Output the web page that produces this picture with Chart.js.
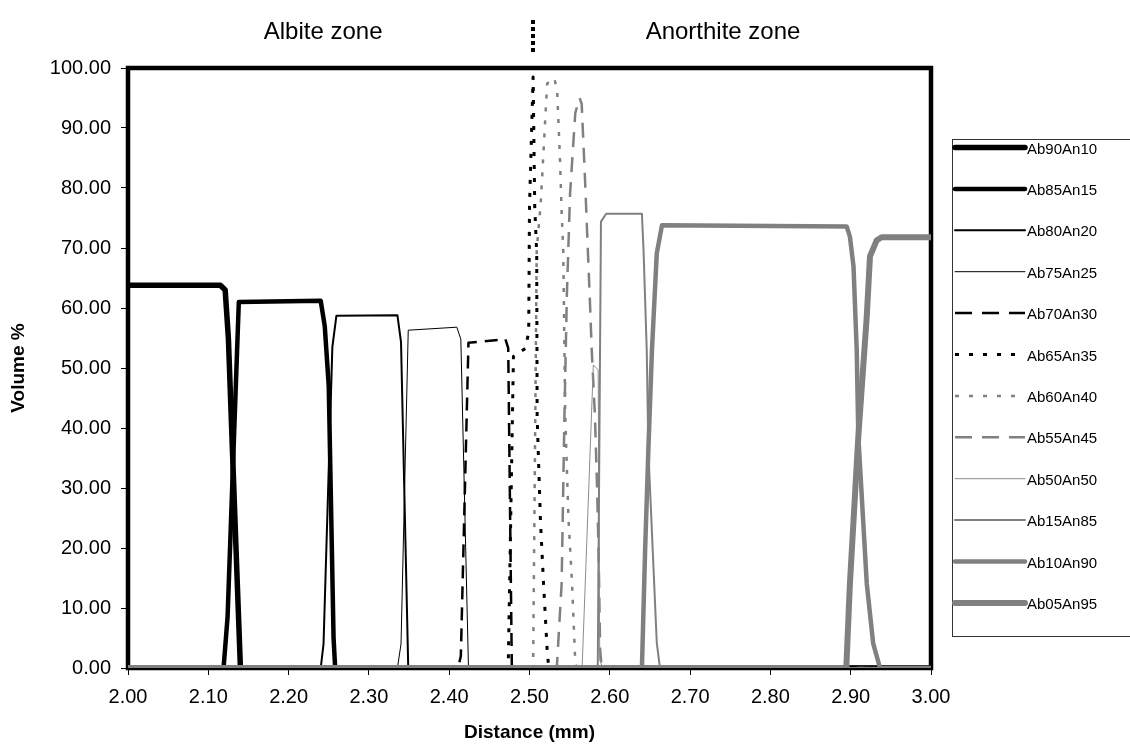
<!DOCTYPE html>
<html>
<head>
<meta charset="utf-8">
<script src="https://cdn.jsdelivr.net/npm/chart.js@4.4.0/dist/chart.umd.min.js"></script>
<style>
  html, body { margin: 0; padding: 0; background: #fff; }
  canvas { display: block; }
</style>
</head>
<body>
<canvas id="chart" width="1130" height="744"></canvas>
<script>
// series names (legend order)
const seriesNames = ['Ab90An10', 'Ab85An15', 'Ab80An20', 'Ab75An25', 'Ab70An30', 'Ab65An35',
                     'Ab60An40', 'Ab55An45', 'Ab50An50', 'Ab15An85', 'Ab10An90', 'Ab05An95'];

// distance (mm) / volume % for each series
const xAb90An10 = [2.000, 2.115, 2.121, 2.125, 2.130, 2.136, 2.140, 3.000];
const yAb90An10 = [63.8, 63.8, 63.0, 55.0, 36.5, 14.5, 0.0, 0.0];

const xAb85An15 = [2.000, 2.119, 2.124, 2.138, 2.240, 2.245, 2.250, 2.256, 2.258, 3.000];
const yAb85An15 = [0.0, 0.0, 8.5, 61.0, 61.2, 57.0, 47.0, 5.0, 0.0, 0.0];

const xAb80An20 = [2.000, 2.240, 2.2435, 2.2545, 2.2595, 2.3355, 2.340, 2.349, 3.000];
const yAb80An20 = [0.0, 0.0, 4.0, 53.5, 58.7, 58.8, 54.3, 0.0, 0.0];

const xAb75An25 = [2.000, 2.3355, 2.340, 2.349, 2.4095, 2.4145, 2.424, 3.000];
const yAb75An25 = [0.0, 0.0, 4.0, 56.3, 56.8, 54.8, 0.0, 0.0];

const xAb70An30 = [2.000, 2.411, 2.4145, 2.424, 2.470, 2.4735, 2.478, 3.000];
const yAb70An30 = [0.0, 0.0, 2.0, 54.2, 54.8, 53.3, 0.0, 0.0];

const xAb65An35 = [2.000, 2.4735, 2.480, 2.495, 2.499, 2.500, 2.5045, 2.5065, 2.509, 2.5095, 2.5135, 2.5175, 2.522, 2.524, 3.000];
const yAb65An35 = [0.0, 0.0, 51.9, 53.3, 56.0, 77.0, 98.5, 77.0, 69.0, 42.0, 25.0, 14.0, 3.0, 0.0, 0.0];

const xAb60An40 = [2.000, 2.5045, 2.509, 2.514, 2.522, 2.531, 2.5345, 2.538, 2.540, 2.542, 2.5445, 2.5485, 2.553, 2.557, 2.559, 3.000];
const yAb60An40 = [0.0, 0.0, 69.7, 77.5, 97.4, 98.3, 96.0, 84.7, 76.0, 69.7, 42.0, 25.0, 14.0, 1.0, 0.0, 0.0];

const xAb55An45 = [2.000, 2.534, 2.540, 2.5435, 2.5465, 2.5505, 2.557, 2.5625, 2.565, 2.569, 2.5715, 2.5755, 2.5775, 2.5815, 2.584, 2.586, 2.588, 2.590, 3.000];
const yAb55An45 = [0.0, 0.0, 14.0, 42.0, 62.0, 79.0, 92.5, 95.0, 94.0, 81.9, 73.5, 60.2, 53.0, 41.9, 30.8, 19.7, 3.0, 0.0, 0.0];

const xAb50An50 = [2.000, 2.5655, 2.5795, 2.5855, 2.5875, 2.5915, 3.000];
const yAb50An50 = [0.0, 0.0, 50.5, 49.7, 1.3, 0.0, 0.0];

const xAb15An85 = [2.000, 2.585, 2.589, 2.5955, 2.640, 2.642, 2.646, 2.648, 2.6585, 2.6625, 3.000];
const yAb15An85 = [0.0, 0.0, 74.4, 75.7, 75.7, 69.7, 53.0, 36.3, 4.2, 0.0, 0.0];

const xAb10An90 = [2.000, 2.640, 2.644, 2.648, 2.6525, 2.6585, 2.665, 2.895, 2.899, 2.9035, 2.9075, 2.9095, 2.920, 2.928, 2.9365, 3.000];
const yAb10An90 = [0.0, 0.0, 19.7, 36.3, 53.0, 69.1, 73.8, 73.6, 71.9, 66.9, 53.0, 38.6, 14.1, 4.1, 0.0, 0.0];

const xAb05An95 = [2.000, 2.8945, 2.899, 2.9095, 2.920, 2.924, 2.9325, 2.9385, 3.000];
const yAb05An95 = [0.0, 0.0, 14.0, 38.6, 58.6, 68.6, 71.3, 71.8, 71.8];

// zone captions above the plot
const zoneLabels = ['Albite zone', 'Anorthite zone'];
const zoneCentres = [2.243, 2.741];
const zoneBoundary = 2.504;

const seriesX = [xAb90An10, xAb85An15, xAb80An20, xAb75An25, xAb70An30, xAb65An35,
                 xAb60An40, xAb55An45, xAb50An50, xAb15An85, xAb10An90, xAb05An95];
const seriesY = [yAb90An10, yAb85An15, yAb80An20, yAb75An25, yAb70An30, yAb65An35,
                 yAb60An40, yAb55An45, yAb50An50, yAb15An85, yAb10An90, yAb05An95];

// line look for each series (dash = in plot, key = in legend)
const lineStyles = [
    { color: '#000000', width: 5.5, dash: [], key: [] },
    { color: '#000000', width: 4.5, dash: [], key: [] },
    { color: '#000000', width: 2, dash: [], key: [] },
    { color: '#000000', width: 1, dash: [], key: [] },
    { color: '#000000', width: 2.5, dash: [13, 8], key: [17, 10] },
    { color: '#000000', width: 3, dash: [4, 9], key: [4, 10] },
    { color: '#808080', width: 2.5, dash: [4, 9], key: [4, 10] },
    { color: '#808080', width: 2.5, dash: [15, 10], key: [17, 10] },
    { color: '#8c8c8c', width: 1, dash: [], key: [] },
    { color: '#808080', width: 2, dash: [], key: [] },
    { color: '#808080', width: 4.5, dash: [], key: [] },
    { color: '#808080', width: 6, dash: [], key: [] }
];

const FONT = '"Liberation Sans", Arial, sans-serif';
Chart.defaults.font.family = FONT;
Chart.defaults.color = '#000';

const datasets = seriesNames.map((name, i) => ({
    label: name,
    data: seriesX[i].map((x, j) => ({ x: x, y: seriesY[i][j] })),
    borderColor: lineStyles[i].color,
    borderWidth: lineStyles[i].width,
    borderDash: lineStyles[i].dash,
    borderJoinStyle: 'round',
    borderCapStyle: 'butt',
    pointRadius: 0,
    pointHoverRadius: 0,
    tension: 0,
    fill: false,
    order: seriesNames.length - i   // later series drawn on top, like the original
}));

// heavy plot-area frame, under the series
const frame = {
    id: 'frame',
    beforeDatasetsDraw(chart) {
        const { ctx, chartArea: a } = chart;
        ctx.save();
        ctx.strokeStyle = '#000';
        ctx.lineWidth = 4.5;
        ctx.strokeRect(a.left, a.top, a.right - a.left, a.bottom - a.top);
        ctx.restore();
    }
};

// zone captions + dotted divider at the top
const zones = {
    id: 'zones',
    afterDraw(chart) {
        const { ctx } = chart;
        const xs = chart.scales.x;
        ctx.save();
        ctx.fillStyle = '#000';
        ctx.font = '24px ' + FONT;
        ctx.textAlign = 'center';
        ctx.textBaseline = 'middle';
        zoneLabels.forEach((t, i) => ctx.fillText(t, xs.getPixelForValue(zoneCentres[i]), 32));
        const bx = Math.round(xs.getPixelForValue(zoneBoundary));
        ctx.strokeStyle = '#000';
        ctx.lineWidth = 4;
        ctx.setLineDash([4, 3]);
        ctx.beginPath();
        ctx.moveTo(bx, 20);
        ctx.lineTo(bx, 52);
        ctx.stroke();
        ctx.restore();
    }
};

// boxed legend on the right
const sideLegend = {
    id: 'sideLegend',
    afterDraw(chart) {
        const { ctx } = chart;
        ctx.save();
        ctx.strokeStyle = '#333';
        ctx.lineWidth = 1;
        ctx.strokeRect(952.5, 139.5, 200, 497);
        ctx.font = '15px ' + FONT;
        ctx.textBaseline = 'middle';
        ctx.fillStyle = '#000';
        chart.data.datasets.forEach((ds, i) => {
            const y = 147.5 + i * 41.4;
            const key = lineStyles[i].key;
            ctx.strokeStyle = ds.borderColor;
            ctx.lineWidth = ds.borderWidth;
            ctx.setLineDash(key);
            ctx.lineCap = key.length ? 'butt' : 'round';
            ctx.beginPath();
            ctx.moveTo(955, y);
            ctx.lineTo(1025, y);
            ctx.stroke();
            ctx.setLineDash([]);
            ctx.fillText(ds.label, 1027, y + 2);
        });
        ctx.restore();
    }
};

new Chart(document.getElementById('chart'), {
    type: 'line',
    data: { datasets: datasets },
    options: {
        responsive: false,
        animation: false,
        events: [],
        layout: { padding: { top: 68, right: 199, left: 0, bottom: 0 } },
        plugins: {
            legend: { display: false },
            tooltip: { enabled: false }
        },
        scales: {
            x: {
                type: 'linear',
                min: 2,
                max: 3,
                ticks: {
                    stepSize: 0.1,
                    padding: 10,
                    font: { size: 20 },
                    color: '#000',
                    maxRotation: 0,
                    callback: v => v.toFixed(2)
                },
                grid: { drawOnChartArea: false, drawTicks: true, tickLength: 7, color: '#000', lineWidth: 1 },
                border: { display: false },
                title: {
                    display: true,
                    text: 'Distance (mm)',
                    font: { size: 19, weight: 'bold' },
                    color: '#000',
                    padding: { top: 0, bottom: 0 }
                },
                afterFit: s => { s.height = 76; }
            },
            y: {
                min: 0,
                max: 100,
                ticks: {
                    stepSize: 10,
                    padding: 10,
                    font: { size: 20 },
                    color: '#000',
                    callback: v => v.toFixed(2)
                },
                grid: { drawOnChartArea: false, drawTicks: true, tickLength: 7, color: '#000', lineWidth: 1 },
                border: { display: false },
                title: {
                    display: true,
                    text: 'Volume %',
                    font: { size: 19, weight: 'bold' },
                    color: '#000',
                    padding: { top: 7, bottom: 0 }
                },
                afterFit: s => { s.width = 128; }
            }
        }
    },
    plugins: [frame, zones, sideLegend]
});
</script>
</body>
</html>
